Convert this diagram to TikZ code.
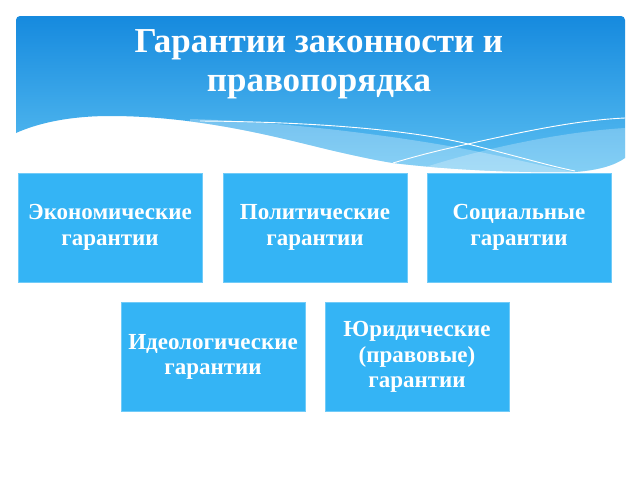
\documentclass[tikz,border=0pt]{standalone}
\usepackage{fontspec}
\setmainfont{Liberation Serif}
\begin{document}
\begin{tikzpicture}[x=1pt,y=-1pt,
  gbox/.style={fill=boxblue, draw=boxblue!70!white, line width=0.6pt, minimum width=184pt, minimum height=109pt, inner sep=0pt, align=center, text=white, font=\bfseries\fontsize{23}{25.5}\selectfont},
  titletext/.style={text=white, align=center, font=\bfseries\fontsize{35}{39}\selectfont}]
\definecolor{boxblue}{RGB}{52,180,245}
\definecolor{bantop}{RGB}{22,138,222}
\definecolor{banbot}{RGB}{92,192,242}
\useasboundingbox (0,0) rectangle (640,480);
\fill[white] (0,0) rectangle (640,480);
% banner
\begin{scope}
\clip[rounded corners=4pt] (16,16) rectangle (625,200);
\clip (0,0) -- (640,0) -- (640,158) -- (625,158)
  .. controls (615,165) and (600,170) .. (575,172)
  .. controls (520,173) and (450,170) .. (393,163)
  .. controls (380,161) and (360,157) .. (330,150)
  .. controls (280,138) and (200,116) .. (110,116)
  .. controls (80,116) and (45,120) .. (16,133) -- (0,133) -- cycle;
\shade[top color=bantop, bottom color=banbot] (16,16) rectangle (625,175);
\fill[white, opacity=0.28] (190,119) .. controls (300,122) and (420,140) .. (470,150)
  .. controls (520,160) and (560,170) .. (580,173) -- (580,200) -- (190,200) -- cycle;
\fill[white, opacity=0.25] (393,178) .. controls (470,150) and (560,132) .. (625,128) -- (625,200) -- (393,200) -- cycle;
\draw[white, line width=0.9pt] (200,121) .. controls (330,122) and (420,132) .. (468,144)
  .. controls (520,157) and (550,166) .. (575,171);
\draw[white, line width=0.9pt] (393,163) .. controls (420,155) and (440,150) .. (468,144)
  .. controls (530,130) and (580,120) .. (625,118);
\end{scope}
\node[titletext] (title) at (319,64) {Гарантии законности и\\правопорядка};
% boxes
\node[gbox] (econ) at (110,227.5) {Экономические\\гарантии};
\node[gbox] (polit) at (315,227.5) {Политические\\гарантии};
\node[gbox] (soc) at (519,227.5) {Социальные\\гарантии};
\node[gbox] (ideo) at (213,357) {Идеологические\\гарантии};
\node[gbox] (jur) at (417,357) {Юридические\\(правовые)\\гарантии};
\end{tikzpicture}
\end{document}
